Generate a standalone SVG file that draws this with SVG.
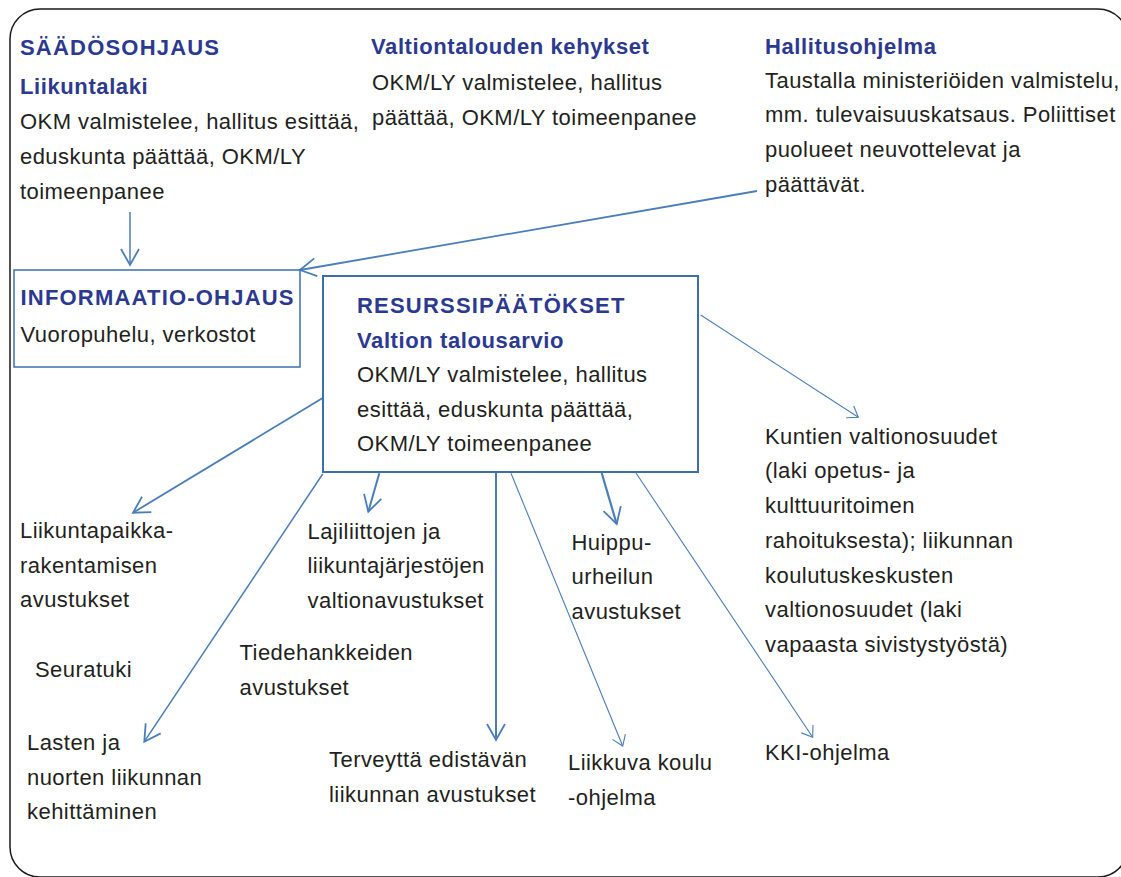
<svg xmlns="http://www.w3.org/2000/svg" width="1121" height="877" viewBox="0 0 1121 877">
  <defs>
    <style>
      text { font-family: "Liberation Sans", Arial, sans-serif; font-size: 22px; }
      .h { font-weight: bold; fill: #2b3990; letter-spacing: 0.6px; }
      .caps { letter-spacing: 1.2px; }
      .b { fill: #231f20; letter-spacing: 0.45px; }
      .box { fill: #ffffff; stroke: #3d6fad; }
      .c { fill: none; stroke: #4a7ebb; }
      .thick { stroke-width: 1.8; marker-end: url(#ah); }
      .thin { stroke-width: 1.1; marker-end: url(#ahs); }
    </style>
    <marker id="ah" markerUnits="userSpaceOnUse" markerWidth="40" markerHeight="40" viewBox="-20 -20 40 40" refX="0" refY="0" orient="auto" overflow="visible">
      <path d="M-16,-9 L0,0 L-16,9" fill="none" stroke="#4a7ebb" stroke-width="1.8"/>
    </marker>
    <marker id="ahs" markerUnits="userSpaceOnUse" markerWidth="30" markerHeight="30" viewBox="-15 -15 30 30" refX="0" refY="0" orient="auto" overflow="visible">
      <path d="M-10,-7 L0,0 L-10,7" fill="none" stroke="#4a7ebb" stroke-width="1.1"/>
    </marker>
  </defs>
  <rect width="1121" height="877" fill="#ffffff"/>
  <rect id="frame" x="10" y="9" width="1118" height="868" rx="30" ry="30" fill="none" stroke="#1a1a1a" stroke-width="1.5"/>

  <g id="connectors">
    <line class="c thick" x1="130" y1="212" x2="130" y2="265" style="stroke-width:1.5"/>
    <line class="c thick" x1="757" y1="191" x2="300" y2="270"/>
    <line class="c thick" x1="322.7" y1="398" x2="133" y2="512.7"/>
    <line class="c thick" x1="322.7" y1="474" x2="144.3" y2="741.7" style="stroke-width:1.5"/>
    <line class="c thick" x1="379.3" y1="473.3" x2="368.3" y2="511.7" style="stroke-width:2"/>
    <line class="c thick" x1="496" y1="473" x2="496" y2="740" style="stroke-width:2"/>
    <line class="c thick" x1="601.7" y1="473" x2="616.7" y2="524" style="stroke-width:2.2"/>
    <line class="c thin" x1="511" y1="473.3" x2="622.7" y2="746"/>
    <line class="c thin" x1="636" y1="473" x2="812.7" y2="737.3"/>
    <line class="c thin" x1="700.7" y1="315" x2="858.3" y2="417.3"/>
  </g>

  <g id="saadosohjaus">
    <text class="h caps" x="20" y="55">SÄÄDÖSOHJAUS</text>
    <text class="h" x="20" y="94">Liikuntalaki</text>
    <text class="b" x="20" y="129">OKM valmistelee, hallitus esittää,</text>
    <text class="b" x="20" y="164">eduskunta päättää, OKM/LY</text>
    <text class="b" x="20" y="199">toimeenpanee</text>
  </g>

  <g id="kehykset">
    <text class="h" x="371" y="54">Valtiontalouden kehykset</text>
    <text class="b" x="372" y="90">OKM/LY valmistelee, hallitus</text>
    <text class="b" x="372" y="124.5">päättää, OKM/LY toimeenpanee</text>
  </g>

  <g id="hallitusohjelma">
    <text class="h" x="765" y="54">Hallitusohjelma</text>
    <text class="b" x="765" y="87.5">Taustalla ministeriöiden valmistelu,</text>
    <text class="b" x="765" y="122">mm. tulevaisuuskatsaus. Poliittiset</text>
    <text class="b" x="765" y="157">puolueet neuvottelevat ja</text>
    <text class="b" x="765" y="192">päättävät.</text>
  </g>

  <g id="informaatio">
    <rect class="box" x="14" y="270" width="286" height="97" stroke-width="1.5"/>
    <text class="h caps" x="20.5" y="305">INFORMAATIO-OHJAUS</text>
    <text class="b" x="20.5" y="341.5">Vuoropuhelu, verkostot</text>
  </g>

  <g id="resurssi">
    <rect class="box" x="323" y="276" width="375" height="196" stroke-width="2"/>
    <text class="h caps" x="357" y="312.5">RESURSSIPÄÄTÖKSET</text>
    <text class="h" x="357" y="347.5">Valtion talousarvio</text>
    <text class="b" x="357" y="382">OKM/LY valmistelee, hallitus</text>
    <text class="b" x="357" y="416.5">esittää, eduskunta päättää,</text>
    <text class="b" x="357" y="451">OKM/LY toimeenpanee</text>
  </g>

  <g id="liikuntapaikka">
    <text class="b" x="20" y="538">Liikuntapaikka-</text>
    <text class="b" x="20" y="572.5">rakentamisen</text>
    <text class="b" x="20" y="607">avustukset</text>
  </g>

  <g id="seuratuki">
    <text class="b" x="35" y="676.5">Seuratuki</text>
  </g>

  <g id="lasten">
    <text class="b" x="27" y="750">Lasten ja</text>
    <text class="b" x="27" y="784.5">nuorten liikunnan</text>
    <text class="b" x="27" y="819">kehittäminen</text>
  </g>

  <g id="lajiliitot">
    <text class="b" x="307.5" y="538.5">Lajiliittojen ja</text>
    <text class="b" x="307.5" y="573">liikuntajärjestöjen</text>
    <text class="b" x="307.5" y="607.5">valtionavustukset</text>
  </g>

  <g id="tiedehankkeet">
    <text class="b" x="239.5" y="660">Tiedehankkeiden</text>
    <text class="b" x="239.5" y="694.5">avustukset</text>
  </g>

  <g id="terveys">
    <text class="b" x="329" y="767">Terveyttä edistävän</text>
    <text class="b" x="329" y="801.5">liikunnan avustukset</text>
  </g>

  <g id="huippu">
    <text class="b" x="571.5" y="549.5">Huippu-</text>
    <text class="b" x="571.5" y="584">urheilun</text>
    <text class="b" x="571.5" y="618.5">avustukset</text>
  </g>

  <g id="liikkuva">
    <text class="b" x="568" y="770">Liikkuva koulu</text>
    <text class="b" x="568" y="805">-ohjelma</text>
  </g>

  <g id="kki">
    <text class="b" x="765" y="760">KKI-ohjelma</text>
  </g>

  <g id="kuntien">
    <text class="b" x="765" y="443.5">Kuntien valtionosuudet</text>
    <text class="b" x="765" y="478">(laki opetus- ja</text>
    <text class="b" x="765" y="513">kulttuuritoimen</text>
    <text class="b" x="765" y="548">rahoituksesta); liikunnan</text>
    <text class="b" x="765" y="582.5">koulutuskeskusten</text>
    <text class="b" x="765" y="617">valtionosuudet (laki</text>
    <text class="b" x="765" y="651.5">vapaasta sivistystyöstä)</text>
  </g>
</svg>
